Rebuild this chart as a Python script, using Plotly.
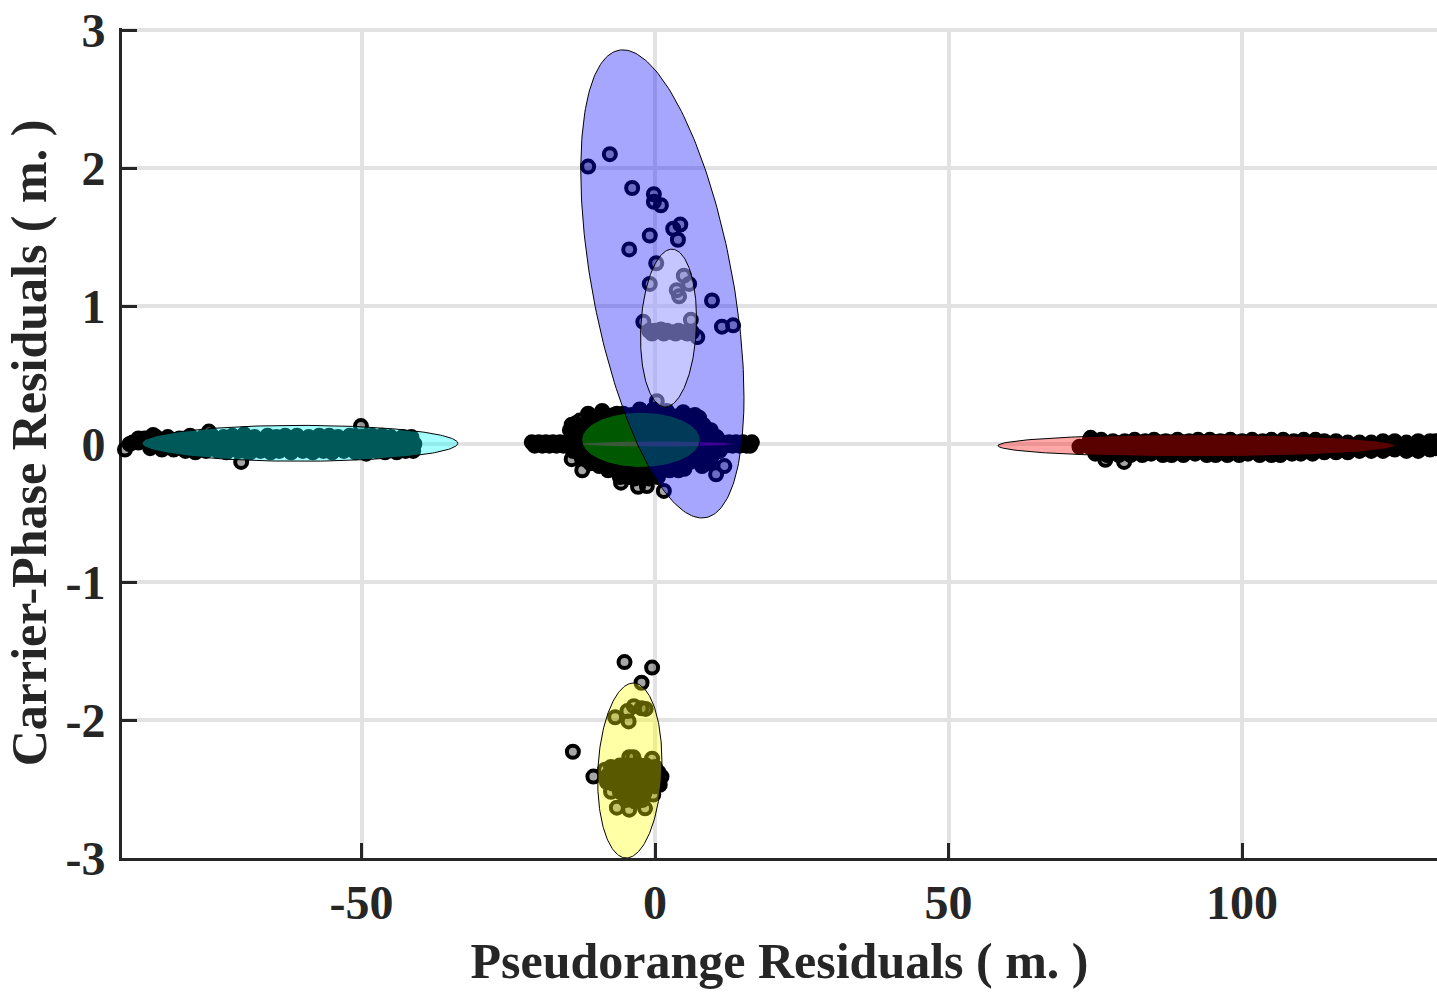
import numpy as np
import plotly.graph_objects as go

# residuals, saturated (solid black) parts of each cluster
left_x = [-87, -85, -83, -81, -79.2, -77, -75.5, -73.5, -72, -70, -68.2, -66, -64.5, -63, -61, -59, -57.2, -55.5, -54, -52, -50, -48.2, -46.5, -45, -43, -41.5,
          -89.5, -88, -86, -84, -82, -80, -78, -76, -74, -72.5, -71, -69, -67, -65, -63.5, -62, -60, -58, -56, -54.5, -53, -51, -49, -47, -45.5, -44, -42, -41,
          -86, -84, -82, -80, -78.3, -76.5, -74.5, -73, -71, -69, -67.2, -65.5, -64, -62, -60, -58.3, -56.5, -55, -53, -51, -49.2, -47.5, -46, -44, -42.5, -41.2]
left_y = [.04, .05, .05, .04, .06, .05, .06, .05, .06, .07, .05, .06, .05, .06, .06, .05, .06, .06, .05, .06, .05, .06, .06, .05, .05, .05,
          0, .01, 0, -.01, .01, 0, .01, 0, -.01, 0, .01, 0, 0, .01, -.01, 0, .01, 0, -.01, 0, .01, 0, 0, .01, -.01, 0, .01, 0,
          -.03, -.04, -.04, -.05, -.06, -.05, -.05, -.06, -.05, -.06, -.05, -.06, -.05, -.06, -.05, -.06, -.05, -.06, -.05, -.06, -.07, -.05, -.06, -.06, -.05, -.05]

right_x = [74, 76, 78, 80, 81.7, 83.5, 85, 87, 89, 91, 92.5, 94.5, 96.3, 98, 100, 101.7, 103.5, 105, 107, 108.8, 110.5, 112.5, 114, 116, 118, 120, 122, 124, 126, 128, 130, 132, 133,
           72.3, 74, 75.5, 77.5, 79.5, 81, 83, 85, 86.5, 88.5, 90.5, 92, 94, 96, 97.5, 99.5, 101, 103, 105, 106.5, 108.5, 110, 112, 114, 115.5, 117.5, 119, 121, 123, 125, 127, 129, 131, 133,
           75, 77, 79, 81, 83, 84.5, 86.5, 88, 90, 92, 94, 95.5, 97.5, 99.5, 101, 103, 105, 106.5, 108.5, 110, 112, 114, 116, 118,
           120, 122, 124, 126, 128, 130, 132]
right_y = [.02, .03, .02, .02, .03, .02, .03, .02, .03, .02, .03, .03, .02, .03, .02, .03, .02, .03, .03, .02, .03, .03, .02, .02, .01, .01, .01, .02, .02, .01, .02, .02, .02,
           -.02, -.02, -.03, -.02, -.03, -.02, -.03, -.02, -.03, -.02, -.03, -.02, -.03, -.02, -.03, -.02, -.03, -.02, -.03, -.02, -.03, -.02, -.03, -.02, -.03, -.03, -.02, -.03, -.02, -.03, -.02, -.03, -.02, -.03,
           -.07, -.08, -.08, -.08, -.08, -.07, -.08, -.08, -.08, -.07, -.08, -.08, -.08, -.08, -.07, -.08, -.08, -.08, -.07, -.07, -.07, -.06, -.06, -.06,
           -.05, -.05, -.05, -.04, -.05, -.05, -.04]

center_x = [-21, -19.8, -18.6, -17.4, -16.2, -15, -13.8, -12.6, -11.4, -10.2, -9, 9, 10.2, 11.4, 12.6, 13.8, 15, 16.5,
            -20.5, -19.2, -18, -16.8, -15.6, -14.4, -13.2, 9.6, 10.8, 12, 13.2, 14.4, 15.6, 16.2,
            -13.5, -12, -10.5, -9, -7.5, -6, -4.5, -3, -1.5, 0, 1.5, 3, 4.5, 6, 7.5, 9,
            -11.5, -10, -8.5, -7, -5.5, -4, -2.5, -1, .5, 2, 3.5, 5, 6.5, 8, 9.2,
            -10, -8.5, -7, -5.5, -4, -2.5, -1, .5, 2, 3.5, 5, 6.5, 7.5,
            -11.5, -10, -8.5, -7, -5.5, -4, -2.5, -1, .5, 2, 3.5, 5, 6.5, 8,
            -10.5, -9, -7.5, -6, -4.5, -3, -1.5, 0, 1.5, 3, 4.5, 6,
            -11.4, -9.4, -12.8, -8, -5.4, -2.6, -.3, 2, 4.8, 6.8, 8.2, -7, -4, -1, 1, 3.5, 6, 7.5,
            -14.5, -13.5, -12.5, -14, -12.5, -11, -10, -9, -7.5, -6.5,
            9.5, 8.5, 9, 10.5, 11, 9.8, 9, 8,
            -11, -9.5, -8, -6.5, -5, -3.5, -2, -.5, 1, 2.5, 4, 5,
            -6, -4.8, -3.5, -2.2, -1, .5,
            -13, -12.5, -11.5, -14]
center_y = [.012, .012, .012, .012, .012, .012, .012, .012, .012, .012, .012, .012, .012, .012, .012, .012, .012, .012,
            -.012, -.012, -.012, -.012, -.012, -.012, -.012, -.012, -.012, -.012, -.012, -.012, -.012, -.012,
            -.01, .02, 0, .01, -.01, 0, .01, 0, -.01, .01, 0, -.01, 0, .01, -.01, 0,
            .08, .07, .08, .07, .08, .07, .08, .07, .08, .07, .08, .07, .08, .07, .06,
            .15, .15, .14, .15, .14, .15, .14, .15, .14, .15, .14, .15, .14,
            -.07, -.08, -.07, -.08, -.07, -.08, -.07, -.08, -.07, -.08, -.07, -.08, -.07, -.06,
            -.12, -.14, -.13, -.15, -.14, -.15, -.14, -.15, -.14, -.15, -.14, -.13,
            .22, .19, .13, .16, .22, .25, .25, .24, .23, .21, .14, .21, .21, .21, .2, .2, .2, .19,
            .1, .15, .13, .06, .06, .15, .2, .24, .2, .22,
            .1, .12, .05, .05, -.05, -.08, -.14, -.16,
            -.14, -.16, -.19, -.19, -.2, -.19, -.2, -.19, -.2, -.19, -.19, -.18,
            -.24, -.24, -.25, -.24, -.25, -.24,
            -.06, -.1, -.12, -.05]

band_x = [-1, 0, 1, 2, 3, 4, 5, 6.3, -.5, 1.5, 3.5, 5.5]
band_y = [.82, .82, .83, .82, .81, .82, .81, .81, .80, .80, .80, .80]

low_core_x = [-7.5, -6, -4.5, -3, -1.5, 0, .6, -8, -6.5, -5, -3.5, -2, -.5, .5, -7.2, -5.8, -4.2, -2.8, -1.2, 0, -6, -4.5, -3, -1.8, -5, -3.5, -2.2, -8.2, .8]
low_core_y = [-2.34, -2.33, -2.33, -2.32, -2.33, -2.34, -2.38, -2.4, -2.39, -2.4, -2.39, -2.4, -2.4, -2.43, -2.46, -2.46, -2.47, -2.46, -2.46, -2.48, -2.52, -2.53, -2.52, -2.53, -2.58, -2.59, -2.58, -2.45, -2.47]

# single points that can still be told apart
single_x = [-11.4, -7.7, -3.9, -.2, -.2, 1.0, 3.1, 4.3, 3.9, -.9, -4.4, .2, -.9, 4.9, 5.8, 3.7, 4.1, 9.7, -2.0, 6.1, 11.4, 13.3, 7.2, .3,
            -14.2, -12.8, -14.2, -12.4, -5.8, -2.9, -1.4, 1.5, 9.4, 11.8, 10.4,
            -90.3, -50.1, -70.5, -76, -88, -85.5, -86.5, -89,
            76.7, 79.9, 74.2,
            -5.2, -.5, -2.3, -14, -10.5, 1.1, -6.8, -4.7, -3.6, -2.3, -1.6, -4.5,
            -4.4, -3.7, -.5, -8.5, -6.5, -4.4, -1.7, -.3, -7.5]
single_y = [2.01, 2.10, 1.855, 1.81, 1.755, 1.73, 1.56, 1.59, 1.48, 1.51, 1.41, 1.31, 1.16, 1.22, 1.16, 1.115, 1.07, 1.04, .885, .90, .85, .86, .775, .31,
            .14, .17, -.11, -.19, -.28, -.31, -.305, -.34, -.125, -.16, -.22,
            -.04, .13, -.13, .09, .04, .065, .04, .01,
            -.115, -.13, .045,
            -1.58, -1.62, -1.73, -2.23, -2.41, -2.41, -1.98, -1.935, -1.9, -1.915, -1.92, -2.01,
            -2.27, -2.27, -2.28, -2.36, -2.635, -2.65, -2.64, -2.54, -2.52]

# fitted error ellipses: centre x, centre y, half width, half height, correlation
ell_names = ["magenta", "green", "blue", "white", "cyan", "red", "yellow"]
ell_cx = [.3, -2.4, 1.25, 2.3, -60.5, 92.2, -4.3]
ell_cy = [.0, .03, 1.16, .84, .005, -.012, -2.366]
ell_sx = [12.8, 10.1, 13.9, 4.77, 26.9, 33.8, 5.47]
ell_sy = [.018, .2, 1.696, .572, .13, .08, .634]
ell_rho = [0, 0, -.485, .12, 0, 0, .11]
ell_fill = ["rgba(255,0,255,0.35)", "rgba(0,255,0,0.35)", "rgba(0,0,255,0.35)", "rgba(255,255,255,0.35)",
            "rgba(0,255,255,0.35)", "rgba(255,0,0,0.35)", "rgba(255,255,0,0.35)"]
ell_line = [0, 1, 1, 1, 1, 1, 1]

x_ticks = [-50, 0, 50, 100]
x_labels = ["-50", "0", "50", "100"]
y_ticks = [-3, -2, -1, 0, 1, 2, 3]
y_labels = ["-3", "-2", "-1", "0", "1", "2", "3"]

ink = "#262626"
title_font = dict(family="Liberation Serif", size=50, color=ink)

fig = go.Figure()

# saturated clusters, drawn solid
core_x = left_x + right_x + center_x + band_x + low_core_x
core_y = left_y + right_y + center_y + band_y + low_core_y
fig.add_trace(go.Scatter(x=core_x, y=core_y, mode="markers", cliponaxis=False, showlegend=False,
                         marker=dict(size=12, color="black", line=dict(color="black", width=4))))
fig.add_trace(go.Scatter(x=single_x, y=single_y, mode="markers", cliponaxis=False, showlegend=False,
                         marker=dict(size=12, color="rgba(0,0,0,0.35)", line=dict(color="black", width=4))))

t = np.linspace(0, 2 * np.pi, 241)
for i in range(len(ell_names)):
    ex = ell_cx[i] + ell_sx[i] * np.cos(t)
    ey = ell_cy[i] + ell_sy[i] * (ell_rho[i] * np.cos(t) + np.sqrt(1 - ell_rho[i] ** 2) * np.sin(t))
    fig.add_trace(go.Scatter(x=ex, y=ey, mode="lines", fill="toself", fillcolor=ell_fill[i],
                             name=ell_names[i], showlegend=False, hoverinfo="skip",
                             line=dict(color="black", width=ell_line[i])))

fig.update_layout(
    width=1437, height=995,
    margin=dict(l=122, r=0, t=28, b=137),
    paper_bgcolor="white", plot_bgcolor="white",
    font=dict(family="Liberation Serif", size=48, color=ink),
    showlegend=False,
)
fig.update_xaxes(
    range=[-90.8, 133.2], tickvals=x_ticks, ticktext=x_labels, ticks="inside", ticklen=15, tickwidth=3, tickcolor=ink,
    showline=True, linecolor=ink, linewidth=3, mirror=False, zeroline=False,
    showgrid=True, gridcolor="#e2e2e2", gridwidth=4, layer="below traces",
    tickfont=dict(family="Liberation Serif", size=48, color=ink, weight="bold"),
    ticklabelstandoff=0,
    title=dict(text="<b>Pseudorange Residuals ( m. )</b>", font=title_font, standoff=16),
)
fig.update_yaxes(
    range=[-3, 3.0145], tickvals=y_ticks, ticktext=y_labels, ticks="inside", ticklen=15, tickwidth=3, tickcolor=ink,
    showline=True, linecolor=ink, linewidth=3, mirror=False, zeroline=False,
    showgrid=True, gridcolor="#e2e2e2", gridwidth=4, layer="below traces",
    tickfont=dict(family="Liberation Serif", size=48, color=ink, weight="bold"),
    ticklabelstandoff=4,
    title=dict(text="<b>Carrier-Phase Residuals ( m. )</b>", font=title_font, standoff=3),
)

fig.write_html("out.html", config={"displayModeBar": False}, post_script="document.body.style.margin='0';")
